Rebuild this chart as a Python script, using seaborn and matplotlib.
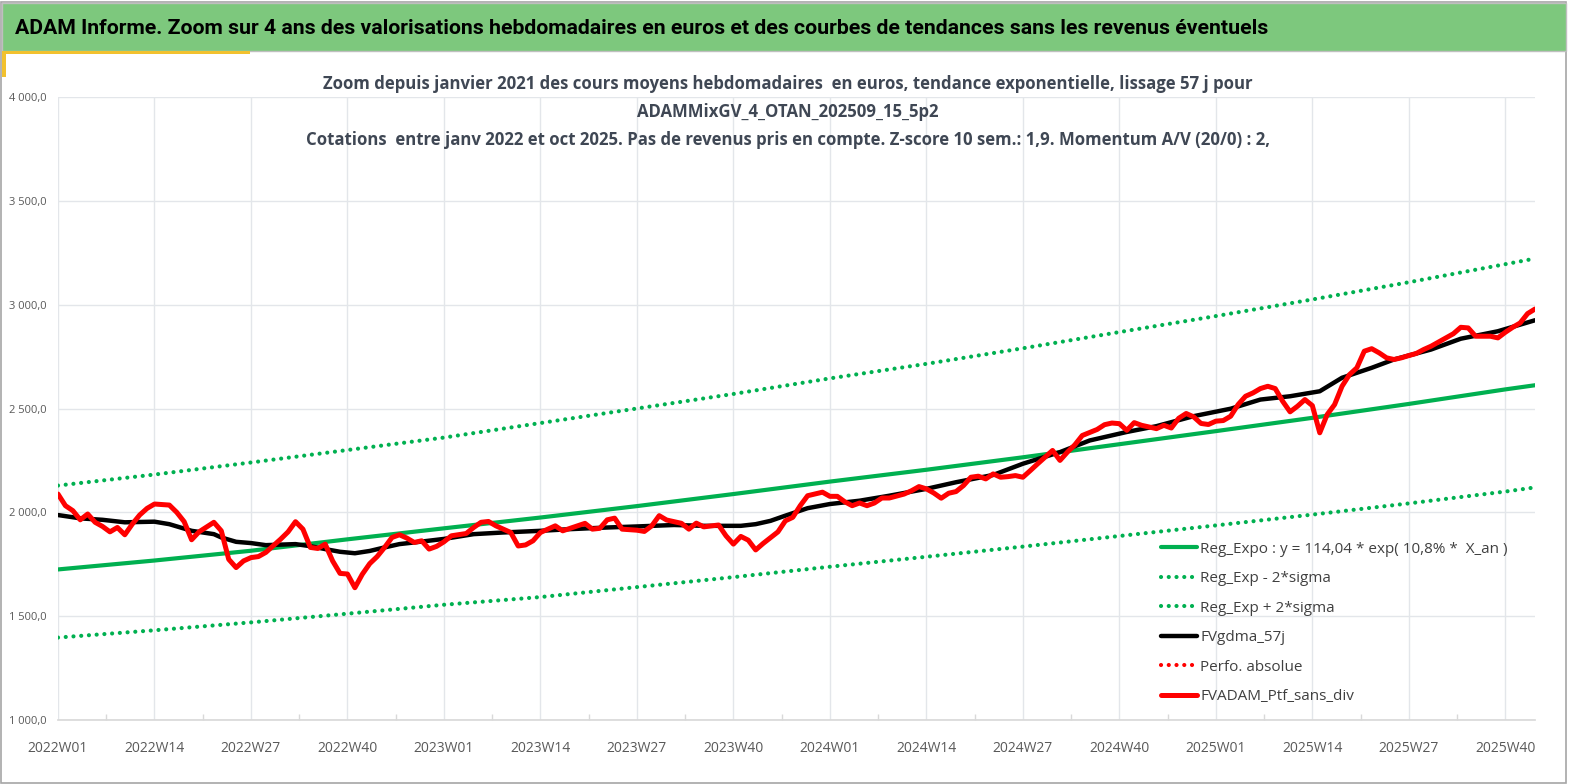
import numpy as np
import pandas as pd
import matplotlib
matplotlib.use("Agg")
import matplotlib.pyplot as plt
from matplotlib.patches import Rectangle
import seaborn as sns

# week categories 2022W01 .. 2025W44
years = [2022, 2023, 2024, 2025]
n_weeks = 200
week_labels = [f"{y}W{w:02d}" for y in years for w in range(1, 53)][:n_weeks]

# FVADAM_Ptf_sans_div (red): week index -> value
red_idx = [0, 1, 2, 3, 4, 5, 6, 7, 8, 9, 10, 11, 12, 13, 15, 16, 17, 18, 19, 21,
           22, 23, 24, 25, 26, 27, 28, 30, 31, 32, 33, 34, 35, 36, 37, 38, 39, 40, 41, 42,
           43, 44, 45, 46, 47, 48, 49, 50, 51, 52, 53, 55, 56, 57, 58, 59, 61, 62, 63, 64,
           65, 67, 68, 69, 71, 72, 73, 74, 75, 76, 78, 79, 80, 81, 82, 84, 85, 86, 87, 89,
           90, 91, 92, 93, 94, 95, 97, 98, 99, 100, 101, 103, 104, 105, 106, 107, 108, 109, 110, 111,
           112, 114, 115, 116, 117, 118, 119, 120, 121, 122, 123, 124, 125, 126, 127, 128, 129, 130, 131, 132,
           133, 134, 135, 136, 137, 138, 140, 141, 142, 143, 144, 145, 146, 147, 148, 149, 150, 151, 152, 153,
           154, 155, 156, 157, 158, 159, 160, 161, 162, 163, 164, 165, 166, 167, 168, 169, 170, 171, 172, 173,
           174, 175, 176, 177, 178, 179, 180, 181, 182, 183, 184, 185, 186, 187, 188, 189, 190, 191, 192, 193,
           194, 195, 196, 197, 198, 199]
red_vals = [2088, 2032, 2008, 1964, 1992, 1952, 1932, 1906, 1927, 1892, 1943, 1987, 2019, 2040, 2035, 2000, 1955, 1868, 1906, 1952,
            1911, 1774, 1734, 1766, 1782, 1787, 1807, 1871, 1906, 1955, 1919, 1831, 1826, 1847, 1766, 1706, 1703, 1637, 1702, 1753,
            1787, 1831, 1879, 1892, 1876, 1855, 1863, 1823, 1836, 1858, 1887, 1898, 1927, 1952, 1956, 1935, 1903, 1838, 1843, 1863,
            1903, 1935, 1911, 1923, 1947, 1919, 1923, 1964, 1972, 1919, 1914, 1908, 1935, 1984, 1963, 1947, 1919, 1948, 1930, 1939,
            1887, 1847, 1884, 1866, 1819, 1850, 1906, 1959, 1976, 2032, 2080, 2097, 2077, 2077, 2051, 2032, 2045, 2032, 2045, 2069,
            2069, 2088, 2104, 2124, 2113, 2093, 2068, 2092, 2100, 2129, 2169, 2174, 2161, 2185, 2169, 2172, 2177, 2169, 2201, 2234,
            2266, 2298, 2250, 2290, 2325, 2370, 2399, 2422, 2430, 2427, 2395, 2432, 2419, 2411, 2403, 2419, 2406, 2453, 2476, 2460,
            2428, 2423, 2439, 2442, 2463, 2519, 2559, 2575, 2596, 2607, 2596, 2535, 2484, 2511, 2543, 2514, 2383, 2471, 2519, 2607,
            2663, 2696, 2776, 2788, 2768, 2744, 2736, 2744, 2755, 2765, 2784, 2800, 2820, 2840, 2860, 2891, 2888, 2848, 2848, 2848,
            2840, 2867, 2891, 2912, 2957, 2979]

# FVgdma_57j (black moving average)
black_idx = [0, 3, 6, 9, 13, 15, 18, 21, 22, 24, 26, 28, 32, 34, 36, 38, 40, 42, 44, 46,
             48, 52, 56, 60, 65, 69, 74, 78, 83, 87, 92, 94, 96, 98, 101, 104, 108, 112, 117, 121,
             126, 130, 135, 139, 144, 148, 153, 158, 162, 166, 170, 173, 177, 180, 185, 189, 194, 199]
black_vals = [1987, 1971, 1964, 1952, 1955, 1943, 1911, 1895, 1879, 1858, 1852, 1842, 1847, 1837, 1823, 1810, 1803, 1814, 1831, 1847,
              1855, 1872, 1895, 1903, 1911, 1919, 1927, 1932, 1939, 1935, 1935, 1943, 1959, 1984, 2020, 2040, 2056, 2080, 2113, 2145,
              2180, 2234, 2290, 2346, 2387, 2415, 2463, 2499, 2543, 2559, 2583, 2648, 2696, 2736, 2784, 2836, 2872, 2925]

# regression line and +/- 2 sigma bands, read at each labelled week
reg_idx = [0, 13, 26, 39, 52, 65, 78, 91, 104, 117, 130, 143, 156, 169, 182, 195, 199]
reg_vals = [1725, 1768, 1815, 1870, 1923, 1975, 2030, 2088, 2148, 2205, 2265, 2328, 2391, 2455, 2522, 2592, 2612]
upper_vals = [2129, 2182, 2240, 2300, 2360, 2430, 2500, 2570, 2645, 2715, 2790, 2868, 2945, 3025, 3108, 3195, 3222]
lower_vals = [1397, 1432, 1470, 1512, 1555, 1592, 1640, 1688, 1738, 1786, 1835, 1886, 1937, 1989, 2043, 2100, 2120]

yticks = [1000, 1500, 2000, 2500, 3000, 3500, 4000]

title = "ADAM Informe. Zoom sur 4 ans des valorisations hebdomadaires en euros et des courbes de tendances sans les revenus éventuels"
subtitle = ["Zoom depuis janvier 2021 des cours moyens hebdomadaires  en euros, tendance exponentielle, lissage 57 j pour",
            "ADAMMixGV_4_OTAN_202509_15_5p2",
            "Cotations  entre janv 2022 et oct 2025. Pas de revenus pris en compte. Z-score 10 sem.: 1,9. Momentum A/V (20/0) : 2,"]

sns.set_theme(style="white")
plt.rcParams['font.family'] = ['Open Sans', 'DejaVu Sans']

W, H = 1569, 784
fig = plt.figure(figsize=(W / 100, H / 100), dpi=100)
fig.patch.set_facecolor("white")

# outer frame, green banner and yellow accents
fig.patches.append(Rectangle((1 / W, 1 / H), 1 - 4 / W, 1 - 3 / H, transform=fig.transFigure,
                             facecolor="none", edgecolor="#A6A6A6", lw=1.2))
fig.patches.append(Rectangle((2 / W, 1 - 51 / H), 1 - 5 / W, 48 / H, transform=fig.transFigure,
                             facecolor="#7DC87D", edgecolor="#BFBFBF", lw=1))
fig.patches.append(Rectangle((2 / W, 1 - 54 / H), 248 / W, 3 / H, transform=fig.transFigure,
                             facecolor="#F2C12E", edgecolor="none"))
fig.patches.append(Rectangle((2 / W, 1 - 77 / H), 4 / W, 25 / H, transform=fig.transFigure,
                             facecolor="#F2C12E", edgecolor="none"))
fig.text(15 / W, 1 - 28 / H, title, fontsize=15.3, fontweight="bold", color="black",
         va="center", ha="left", family=["Roboto", "DejaVu Sans"])

ax = fig.add_axes([58 / W, 1 - 720 / H, (1535 - 58) / W, (720 - 97) / H])

df_red = pd.DataFrame({"week": red_idx, "val": red_vals})
df_black = pd.DataFrame({"week": black_idx, "val": black_vals})
df_reg = pd.DataFrame({"week": reg_idx, "reg": reg_vals, "up": upper_vals, "low": lower_vals})

green = "#00B050"
dot = (0, (0.01, 1.85))
sns.lineplot(data=df_reg, x="week", y="reg", ax=ax, color=green, lw=3, zorder=3)
sns.lineplot(data=df_reg, x="week", y="low", ax=ax, color=green, lw=3, zorder=3)
sns.lineplot(data=df_reg, x="week", y="up", ax=ax, color=green, lw=3, zorder=3)
sns.lineplot(data=df_black, x="week", y="val", ax=ax, color="black", lw=3.2, zorder=4)
sns.lineplot(data=df_red, x="week", y="val", ax=ax, color="#FF0000", lw=3.6, zorder=5)
ax.plot([], [], color="#FF0000", lw=3, linestyle=dot, dash_capstyle="round")

lines = ax.get_lines()
for ln in lines[1:3]:
    ln.set_linestyle(dot)
    ln.set_dash_capstyle("round")
for ln in lines:
    ln.set_solid_joinstyle("round")

ax.set_xlim(0, n_weeks - 1)
ax.set_ylim(1000, 4000)
major = list(range(0, n_weeks, 13))
ax.set_xticks(major)
ax.set_xticklabels([week_labels[i] for i in major])
ax.set_xticks([m + 6.5 for m in major if m + 6.5 < n_weeks - 1], minor=True)
ax.set_yticks(yticks)
ax.set_yticklabels([f"{v:,.1f}".replace(",", " ").replace(".", ",") for v in yticks])
ax.set_xlabel("")
ax.set_ylabel("")
ax.grid(True, color="#E3E6EA", lw=1)
ax.set_axisbelow(True)
for s in ["top", "right", "left"]:
    ax.spines[s].set_visible(False)
ax.spines["bottom"].set_color("#D9D9D9")
ax.tick_params(axis="x", which="major", length=0, pad=15, labelsize=10, labelcolor="#595959")
ax.tick_params(axis="x", which="minor", length=4, color="#D9D9D9", direction="in", bottom=True)
ax.tick_params(axis="y", length=0, pad=8, labelsize=8, labelcolor="#595959")

for k, line in enumerate(subtitle):
    fig.text(788 / W, 1 - (84 + 28 * k) / H, line, fontsize=12.1, fontweight="bold",
             color="#3F4754", ha="center", va="center")

handles = ax.get_lines()
leg_lines = [handles[0], handles[1], handles[2], handles[3], handles[5], handles[4]]
leg_labels = ["Reg_Expo : y = 114,04 * exp( 10,8% *  X_an )", "Reg_Exp - 2*sigma", "Reg_Exp + 2*sigma",
              "FVgdma_57j", "Perfo. absolue", "FVADAM_Ptf_sans_div"]
leg = ax.legend(leg_lines, leg_labels, loc="upper left", bbox_to_anchor=(1147 / W, 1 - 528 / H),
                bbox_transform=fig.transFigure, frameon=False, fontsize=11, handlelength=2.4,
                handletextpad=0.2, labelspacing=0.95, labelcolor="#404040")

fig.savefig("out.png", dpi=100)
